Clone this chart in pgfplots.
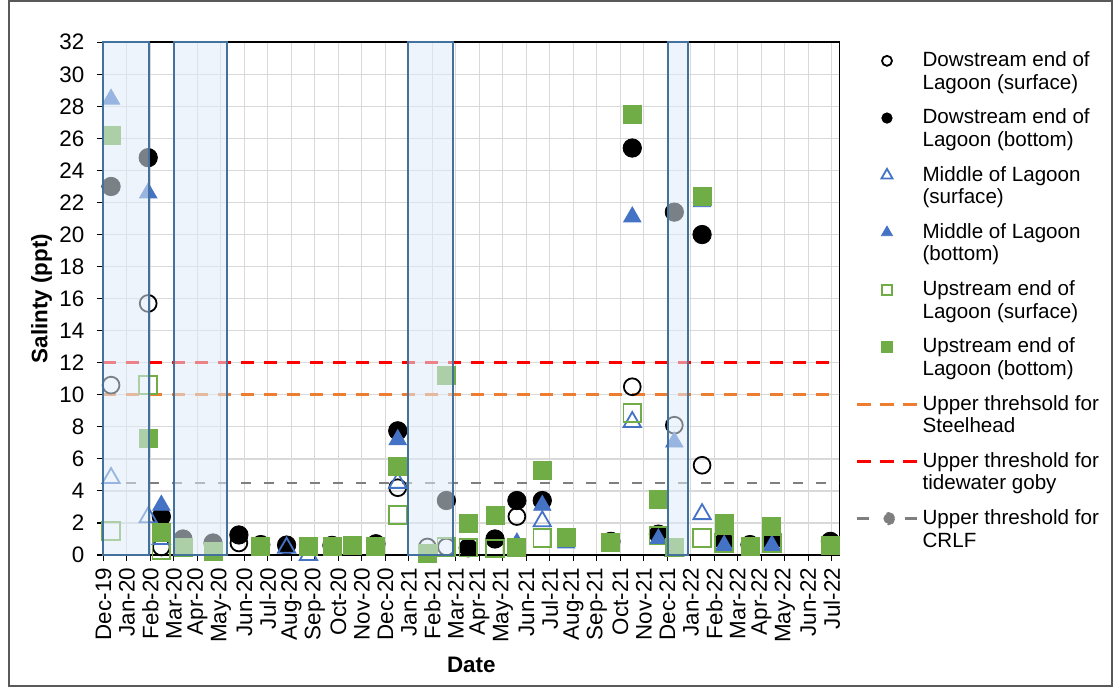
\documentclass[border=0pt]{standalone}
\usepackage{fontspec}
\setmainfont{Liberation Sans}
\usepackage{pgfplots}
\usepackage{pgfplotstable}
\pgfplotsset{compat=1.18}

\definecolor{midblue}{HTML}{4472C4}
\definecolor{upgreen}{HTML}{70AD47}
\definecolor{steelorange}{HTML}{ED7D31}
\definecolor{gobyred}{HTML}{FF0000}
\definecolor{crlfgrey}{HTML}{7F7F7F}
\definecolor{gridgrey}{HTML}{D9D9D9}
\definecolor{boxfill}{HTML}{DEEBF7}
\definecolor{boxedge}{HTML}{41719C}
\definecolor{framegrey}{HTML}{595959}

\pgfplotsset{
  legmark/.style={legend image code/.code={\draw[##1,mark size=#1] plot coordinates {(15pt,5.6pt)};}},
  legdash/.style={legend image code/.code={\draw[##1,dash pattern=on 7pt off 4.5pt] (0pt,5.6pt) -- (30pt,5.6pt);}},
  legcrlf/.style={legend image code/.code={%
    \draw[##1, solid] (0pt,5.6pt) -- (6pt,5.6pt);
    \fill[crlfgrey] (15.8pt,5.6pt) circle (2.6pt);
    \draw[##1, solid] (24pt,5.6pt) -- (30pt,5.6pt);}},
  openbox/.style={fill=boxfill, fill opacity=0.55, draw=boxedge, line width=1pt, forget plot, on layer=axis foreground},
}

% month index: 0 = Dec-19 ... 31 = Jul-22
\pgfplotstableread{
x     ds    db    ms    mb    us    ub
0.33  10.6  23.0  4.8   28.45 1.5   26.2
1.91  15.7  24.8  2.35  22.6  10.6  7.25
2.47  0.5   2.4   1.0   3.1   0.3   1.4
3.39  nan   1.0   nan   nan   nan   0.5
4.67  nan   0.75  nan   nan   nan   0.2
5.77  0.75  1.25  nan   nan   nan   nan
6.70  nan   0.65  nan   nan   nan   0.55
7.80  nan   0.62  0.45  nan   nan   nan
8.73  nan   nan   0.0   nan   nan   0.55
9.73  nan   0.6   nan   nan   nan   0.55
10.60 nan   nan   nan   nan   nan   0.6
11.60 nan   0.7   nan   nan   nan   0.55
12.53 4.2   7.75  4.5   7.2   2.5   5.5
13.79 0.5   nan   nan   nan   nan   0.1
14.60 0.5   3.4   nan   nan   0.5   11.2
15.53 nan   0.45  nan   nan   0.45  1.95
16.67 nan   1.0   nan   nan   0.4   2.45
17.60 2.4   3.4   nan   0.75  nan   0.5
18.68 nan   3.4   2.1   3.1   1.05  5.3
19.70 nan   nan   nan   0.75  nan   1.1
21.60 nan   0.85  nan   nan   nan   0.77
22.51 10.5  25.4  8.3   21.1  8.85  27.5
23.62 nan   1.3   nan   1.0   1.2   3.5
24.30 8.1   21.4  0.25  7.05  nan   0.45
25.48 5.6   20.0  2.55  22.05 1.05  22.4
26.42 nan   0.85  nan   0.6   0.75  2.0
27.52 nan   0.65  nan   nan   nan   0.52
28.45 nan   0.85  nan   0.6   0.75  1.77
30.94 nan   0.85  nan   nan   nan   0.62
}\salinity

\begin{document}
\begin{tikzpicture}
\begin{axis}[
  set layers,
  scale only axis,
  width=368pt, height=256.35pt,
  xmin=0, xmax=31.32, ymin=0, ymax=32,
  xtick={0,1,...,31},
  xticklabels={Dec-19,Jan-20,Feb-20,Mar-20,Apr-20,May-20,Jun-20,Jul-20,Aug-20,Sep-20,Oct-20,Nov-20,Dec-20,Jan-21,Feb-21,Mar-21,Apr-21,May-21,Jun-21,Jul-21,Aug-21,Sep-21,Oct-21,Nov-21,Dec-21,Jan-22,Feb-22,Mar-22,Apr-22,May-22,Jun-22,Jul-22},
  ytick={0,2,...,32},
  xtick pos=bottom, ytick pos=left,
  tick align=outside, major tick length=3pt,
  tick style={black, line width=0.6pt},
  grid=major, major grid style={gridgrey, line width=0.65pt},
  axis line style={black, line width=0.8pt},
  clip=false,
  /pgf/number format/assume math mode=true,
  tick label style={font=\fontsize{11.2}{13}\selectfont},
  xticklabel style={rotate=90, anchor=east},
  yticklabel style={xshift=-3pt},
  xlabel={\textbf{Date}},
  ylabel={\textbf{Salinty (ppt)}},
  label style={font=\fontsize{11.2}{13}\selectfont},
  xlabel style={at={(axis description cs:0.5,-0.2146)}, anchor=center},
  ylabel style={at={(axis description cs:-0.084,0.5)}, anchor=center},
  legend cell align=left,
  legend style={at={(axis description cs:1.0213,0.99)}, anchor=north west,
    draw=none, fill=none, inner sep=0pt, row sep=4.4pt,
    font=\fontsize{10.3}{11.25}\selectfont,
    cells={anchor=west, align=left}},
]
\addplot[only marks, mark=o, black, mark size=4.2pt, mark options={line width=0.9pt}, legmark=2.5pt]
  table[x=x, y=ds] {\salinity};
\addlegendentry{Dowstream end of\\Lagoon (surface)}
\addplot[only marks, mark=*, black, mark size=4.6pt, legmark=2.6pt]
  table[x=x, y=db] {\salinity};
\addlegendentry{Dowstream end of\\Lagoon (bottom)}
\addplot[only marks, mark=triangle, midblue, mark size=5pt, mark options={line width=0.9pt}, legmark=3.2pt]
  table[x=x, y=ms] {\salinity};
\addlegendentry{Middle of Lagoon\\(surface)}
\addplot[only marks, mark=triangle*, midblue, mark size=5pt, legmark=3.2pt]
  table[x=x, y=mb] {\salinity};
\addlegendentry{Middle of Lagoon\\(bottom)}
\addplot[only marks, mark=square, upgreen, mark size=4.4pt, mark options={line width=0.9pt}, legmark=2.5pt]
  table[x=x, y=us] {\salinity};
\addlegendentry{Upstream end of\\Lagoon (surface)}
\addplot[only marks, mark=square*, upgreen, mark size=4.5pt, legmark=2.6pt]
  table[x=x, y=ub] {\salinity};
\addlegendentry{Upstream end of\\Lagoon (bottom)}

\addplot[steelorange, line width=1.6pt, dash pattern=on 6.5pt off 5pt, legdash]
  coordinates {(0,10) (31.32,10)};
\addlegendentry{Upper threhsold for\\Steelhead}
\addplot[gobyred, line width=1.6pt, dash pattern=on 6.5pt off 5pt, legdash]
  coordinates {(0,12) (31.32,12)};
\addlegendentry{Upper threshold for\\tidewater goby}
\addplot[crlfgrey, line width=1.35pt, dash pattern=on 5pt off 6.5pt, legcrlf]
  coordinates {(0,4.5) (31.32,4.5)};
\addlegendentry{Upper threshold for\\CRLF}

% shaded periods
\addplot[openbox] coordinates {(0,0) (1.94,0) (1.94,32) (0,32)} -- cycle;
\addplot[openbox] coordinates {(3.0,0) (5.28,0) (5.28,32) (3.0,32)} -- cycle;
\addplot[openbox] coordinates {(12.98,0) (14.87,0) (14.87,32) (12.98,32)} -- cycle;
\addplot[openbox] coordinates {(24.04,0) (24.87,0) (24.87,32) (24.04,32)} -- cycle;
\end{axis}
\draw[framegrey, line width=0.8pt] (-47.15pt,-65.5pt) rectangle (504.35pt,277pt);
\path (-51.65pt,-66.5pt) rectangle (505.85pt,277.5pt);
\end{tikzpicture}
\end{document}
